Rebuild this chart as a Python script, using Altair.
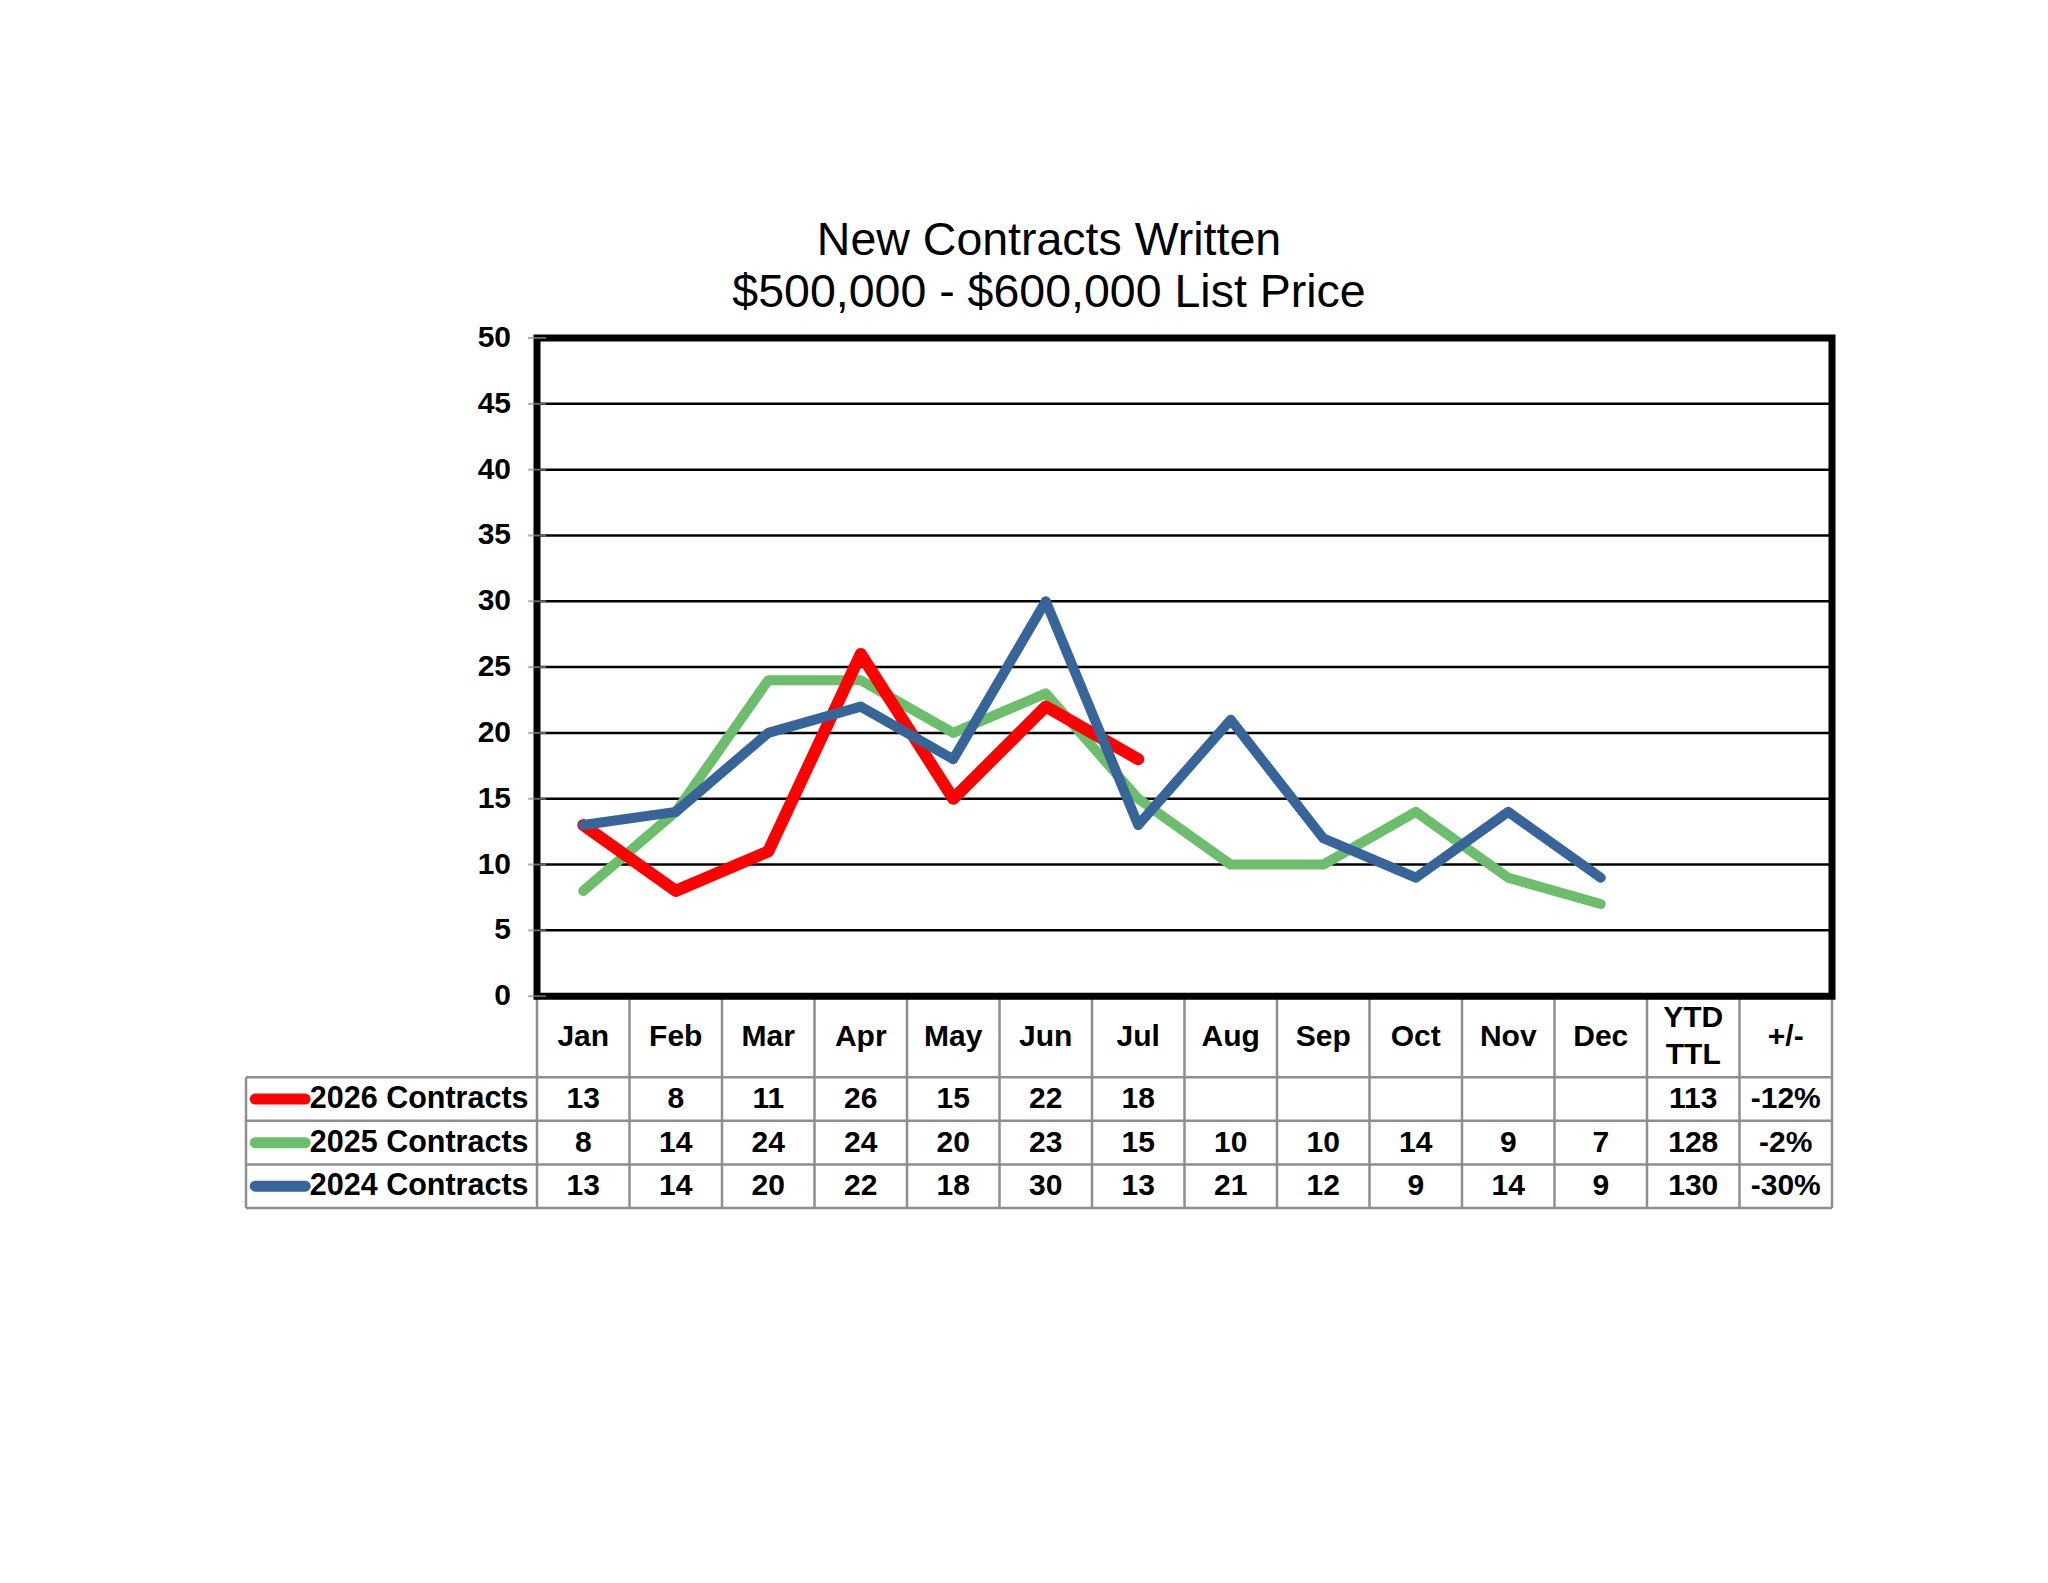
import altair as alt
import pandas as pd

# ---------------- data ----------------
months = ["Jan", "Feb", "Mar", "Apr", "May", "Jun", "Jul", "Aug", "Sep", "Oct", "Nov", "Dec"]
extra_headers = ["YTD\nTTL", "+/-"]
series_names = ["2026 Contracts", "2025 Contracts", "2024 Contracts"]
contracts_2026 = [13, 8, 11, 26, 15, 22, 18, None, None, None, None, None]
contracts_2025 = [8, 14, 24, 24, 20, 23, 15, 10, 10, 14, 9, 7]
contracts_2024 = [13, 14, 20, 22, 18, 30, 13, 21, 12, 9, 14, 9]
ytd_totals = [113, 128, 130]
pct_change = ["-12%", "-2%", "-30%"]
y_ticks = list(range(0, 51, 5))
title_lines = ["New Contracts Written", "$500,000 - $600,000 List Price"]

# ---------------- style / layout ----------------
series_values = [contracts_2026, contracts_2025, contracts_2024]
series_colors = ["#FF0000", "#6CBE6C", "#376499"]
line_widths = [12, 10, 10]
draw_order = [1, 0, 2]  # green, red, blue on top

FONT = "Liberation Sans"
N_COLS = len(months) + len(extra_headers)
LABEL_W = 3.146
HEADER_H = 6.16
ROW_H = 3.31
HEADER_LINE_GAP = 2.82   # spacing between the two header text lines (y units)
TABLE_BOTTOM = -(HEADER_H + len(series_names) * ROW_H)
Y_MAX = 50
GRAY = "#8E8E8E"

xs = alt.Scale(domain=[-LABEL_W, N_COLS], nice=False, zero=False)
ys = alt.Scale(domain=[TABLE_BOTTOM, Y_MAX], nice=False, zero=False)
color_scale = alt.Scale(domain=series_names, range=series_colors)


def X(f):
    return alt.X(f, type="quantitative", scale=xs, axis=None)


def Y(f):
    return alt.Y(f, type="quantitative", scale=ys, axis=None)


# ---------------- table grid (gray) ----------------
h_rows = []
for k in range(len(series_names) + 1):
    h_rows.append({"x0": -LABEL_W, "x1": N_COLS, "y": -(HEADER_H + k * ROW_H)})
h_lines = alt.Chart(pd.DataFrame(h_rows)).mark_rule(color=GRAY, strokeWidth=2.5).encode(
    x=X("x0"), x2=alt.X2("x1"), y=Y("y"))

v_rows = [{"x": c, "y0": 0, "y1": TABLE_BOTTOM} for c in range(N_COLS + 1)]
v_rows.append({"x": -LABEL_W, "y0": -HEADER_H, "y1": TABLE_BOTTOM})
v_lines = alt.Chart(pd.DataFrame(v_rows)).mark_rule(color=GRAY, strokeWidth=2.5).encode(
    x=X("x"), y=Y("y0"), y2=alt.Y2("y1"))

# ---------------- horizontal gridlines ----------------
grid_df = pd.DataFrame({"y": [t for t in y_ticks if 0 < t < Y_MAX]})
grid_df["x0"] = 0
grid_df["x1"] = N_COLS
grid = alt.Chart(grid_df).mark_rule(color="black", strokeWidth=2.5).encode(
    x=X("x0"), x2=alt.X2("x1"), y=Y("y"))

# ---------------- y-axis ticks and labels ----------------
ylab_df = pd.DataFrame({"y": y_ticks, "x": 0, "label": [str(t) for t in y_ticks]})
yticks = alt.Chart(ylab_df).mark_tick(orient="horizontal", size=18, thickness=2, color=GRAY).encode(
    x=X("x"), y=Y("y"))
ylabels = alt.Chart(ylab_df).mark_text(
    font=FONT, fontSize=30, fontWeight="bold", align="right", baseline="middle", dx=-26, color="black"
).encode(x=X("x"), y=Y("y"), text="label:N")

# ---------------- series lines ----------------
line_layers = []
for i in draw_order:
    rows = [{"x": m + 0.5, "v": v, "series": series_names[i]}
            for m, v in enumerate(series_values[i]) if v is not None]
    line_layers.append(
        alt.Chart(pd.DataFrame(rows)).mark_line(
            strokeWidth=line_widths[i], strokeCap="round", strokeJoin="round", color=series_colors[i]
        ).encode(x=X("x"), y=Y("v"), order="x:Q")
    )

# ---------------- plot frame ----------------
frame = alt.Chart(pd.DataFrame({"x0": [0], "x1": [N_COLS], "y0": [0], "y1": [Y_MAX]})).mark_rect(
    fillOpacity=0, stroke="black", strokeWidth=7
).encode(x=X("x0"), x2=alt.X2("x1"), y=Y("y0"), y2=alt.Y2("y1"))

# ---------------- table header ----------------
headers = months + extra_headers
head_rows = []
for c, h in enumerate(headers):
    parts = h.split("\n")
    n = len(parts)
    for j, p in enumerate(parts):
        head_rows.append({
            "x": c + 0.5,
            "y": -HEADER_H / 2 + ((n - 1) / 2 - j) * HEADER_LINE_GAP,
            "label": p,
        })
head_text = alt.Chart(pd.DataFrame(head_rows)).mark_text(
    font=FONT, fontSize=30, fontWeight="bold", align="center", baseline="middle", color="black"
).encode(x=X("x"), y=Y("y"), text="label:N")

# ---------------- table cells ----------------
cells = []
for r, name in enumerate(series_names):
    yc = -(HEADER_H + (r + 0.5) * ROW_H)
    for m, v in enumerate(series_values[r]):
        if v is not None:
            cells.append({"x": m + 0.5, "y": yc, "label": str(v)})
    cells.append({"x": len(months) + 0.5, "y": yc, "label": str(ytd_totals[r])})
    cells.append({"x": len(months) + 1.5, "y": yc, "label": pct_change[r]})
cell_text = alt.Chart(pd.DataFrame(cells)).mark_text(
    font=FONT, fontSize=30, fontWeight="bold", align="center", baseline="middle", color="black"
).encode(x=X("x"), y=Y("y"), text="label:N")

# ---------------- row labels with swatches ----------------
lab_df = pd.DataFrame({
    "series": series_names,
    "y": [-(HEADER_H + (r + 0.5) * ROW_H) for r in range(len(series_names))],
})
lab_df["sx0"] = -LABEL_W + 0.10
lab_df["sx1"] = -LABEL_W + 0.64
lab_df["tx"] = -LABEL_W + 0.69
swatches = alt.Chart(lab_df).mark_rule(strokeWidth=11, strokeCap="round").encode(
    x=X("sx0"), x2=alt.X2("sx1"), y=Y("y"),
    color=alt.Color("series:N", scale=color_scale, legend=None))
row_labels = alt.Chart(lab_df).mark_text(
    font=FONT, fontSize=30.5, fontWeight="bold", align="left", baseline="middle", color="black"
).encode(x=X("tx"), y=Y("y"), text="series:N")

chart = alt.layer(
    h_lines, v_lines, grid, *line_layers, frame, yticks, ylabels,
    head_text, cell_text, swatches, row_labels
).properties(
    width=1586,
    height=870,
    padding={"left": 238, "top": 330, "right": 150, "bottom": 300},
    autosize=alt.AutoSizeParams(type="none"),
    background="white",
    title=alt.TitleParams(
        text=title_lines, font=FONT, fontSize=46.5, fontWeight="normal", color="black",
        anchor="middle", frame="group", offset=7, dx=10, lineHeight=52
    ),
).configure_view(stroke=None)

chart.save("out.html", embed_options={"renderer": "svg", "actions": False})
